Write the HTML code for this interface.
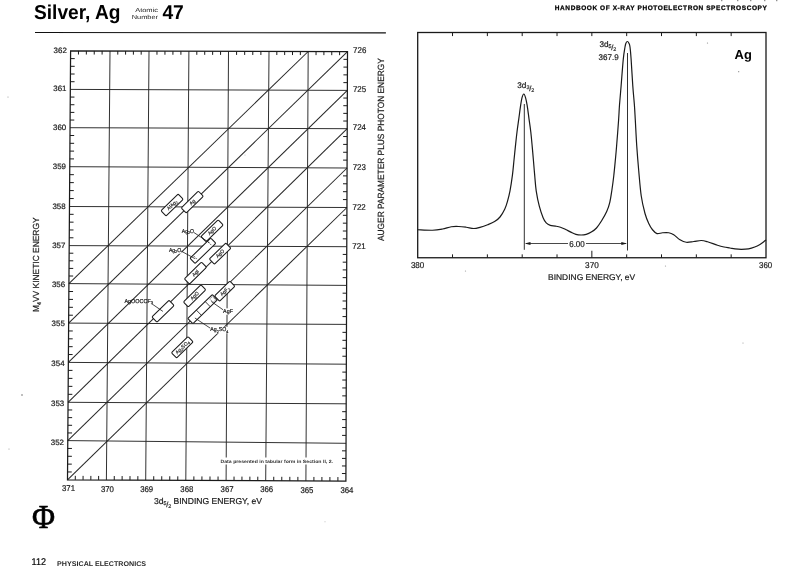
<!DOCTYPE html>
<html lang="en">
<head>
<meta charset="utf-8">
<title>Silver, Ag - Handbook of X-ray Photoelectron Spectroscopy</title>
<style>
html,body{margin:0;padding:0;background:#fff;}
body{width:800px;height:584px;overflow:hidden;font-family:"Liberation Sans",sans-serif;}
svg{display:block;}
text{white-space:pre;text-rendering:geometricPrecision;}
</style>
</head>
<body>
<svg width="800" height="584" viewBox="0 0 800 584" role="img" aria-label="Silver, Ag: chemical state plot and 3d photoelectron spectrum">
<rect width="800" height="584" fill="#fff"/>
<text x="34.00" y="18.70" font-size="20.2" font-family='"Liberation Sans", sans-serif' fill="#000" font-weight="bold" textLength="86.50" lengthAdjust="spacingAndGlyphs">Silver, Ag</text>
<text x="135.20" y="11.80" font-size="5.9" font-family='"Liberation Sans", sans-serif' fill="#1a1a1a" textLength="22.80" lengthAdjust="spacingAndGlyphs">Atomic</text>
<text x="131.80" y="18.90" font-size="5.9" font-family='"Liberation Sans", sans-serif' fill="#1a1a1a" textLength="26.20" lengthAdjust="spacingAndGlyphs">Number</text>
<text x="162.40" y="19.00" font-size="20.0" font-family='"Liberation Sans", sans-serif' fill="#000" font-weight="bold" textLength="21.40" lengthAdjust="spacingAndGlyphs">47</text>
<line x1="35.00" y1="32.45" x2="385.90" y2="32.85" stroke="#111" stroke-width="1.05" />
<text x="554.80" y="9.90" font-size="6.5" font-family='"Liberation Sans", sans-serif' fill="#000" font-weight="bold" textLength="212.00" lengthAdjust="spacing" stroke="#000" stroke-width="0.25">HANDBOOK OF X-RAY PHOTOELECTRON SPECTROSCOPY</text>
<line x1="110.00" y1="51.00" x2="106.40" y2="479.99" stroke="#262626" stroke-width="0.95" />
<line x1="149.00" y1="51.10" x2="145.70" y2="480.17" stroke="#262626" stroke-width="0.95" />
<line x1="188.90" y1="51.20" x2="185.80" y2="480.36" stroke="#262626" stroke-width="0.95" />
<line x1="228.50" y1="51.30" x2="226.10" y2="480.54" stroke="#262626" stroke-width="0.95" />
<line x1="269.00" y1="51.40" x2="265.70" y2="480.73" stroke="#262626" stroke-width="0.95" />
<line x1="308.20" y1="51.50" x2="305.90" y2="480.91" stroke="#262626" stroke-width="0.95" />
<line x1="70.32" y1="89.40" x2="347.35" y2="90.40" stroke="#262626" stroke-width="0.95" />
<line x1="70.04" y1="127.70" x2="347.21" y2="128.70" stroke="#262626" stroke-width="0.95" />
<line x1="69.75" y1="166.70" x2="347.06" y2="168.00" stroke="#262626" stroke-width="0.95" />
<line x1="69.47" y1="206.50" x2="346.92" y2="207.50" stroke="#262626" stroke-width="0.95" />
<line x1="69.19" y1="245.60" x2="346.77" y2="246.70" stroke="#262626" stroke-width="0.95" />
<line x1="68.91" y1="283.60" x2="346.63" y2="285.40" stroke="#262626" stroke-width="0.95" />
<line x1="68.63" y1="323.10" x2="346.48" y2="324.40" stroke="#262626" stroke-width="0.95" />
<line x1="68.35" y1="362.40" x2="346.34" y2="364.20" stroke="#262626" stroke-width="0.95" />
<line x1="68.06" y1="402.30" x2="346.19" y2="403.80" stroke="#262626" stroke-width="0.95" />
<line x1="67.78" y1="440.60" x2="346.05" y2="443.30" stroke="#262626" stroke-width="0.95" />
<line x1="346.92" y1="207.50" x2="67.50" y2="479.80" stroke="#262626" stroke-width="1.03" />
<line x1="347.06" y1="168.00" x2="67.78" y2="440.60" stroke="#262626" stroke-width="1.03" />
<line x1="347.21" y1="128.70" x2="68.06" y2="402.30" stroke="#262626" stroke-width="1.03" />
<line x1="347.35" y1="90.40" x2="68.35" y2="362.40" stroke="#262626" stroke-width="1.03" />
<line x1="347.50" y1="51.60" x2="68.63" y2="323.10" stroke="#262626" stroke-width="1.03" />
<line x1="308.20" y1="51.50" x2="68.91" y2="283.60" stroke="#262626" stroke-width="1.03" />
<polygon points="70.60,50.90 347.50,51.60 345.90,481.10 67.50,479.80" fill="none" stroke="#1a1a1a" stroke-width="1.25"/>
<line x1="78.48" y1="50.92" x2="78.46" y2="54.52" stroke="#1a1a1a" stroke-width="1.0" />
<line x1="75.28" y1="479.84" x2="75.30" y2="475.84" stroke="#1a1a1a" stroke-width="1.0" />
<line x1="86.36" y1="50.94" x2="86.34" y2="54.54" stroke="#1a1a1a" stroke-width="1.0" />
<line x1="83.06" y1="479.87" x2="83.08" y2="475.87" stroke="#1a1a1a" stroke-width="1.0" />
<line x1="94.24" y1="50.96" x2="94.22" y2="54.56" stroke="#1a1a1a" stroke-width="1.0" />
<line x1="90.84" y1="479.91" x2="90.86" y2="475.91" stroke="#1a1a1a" stroke-width="1.0" />
<line x1="102.12" y1="50.98" x2="102.10" y2="54.58" stroke="#1a1a1a" stroke-width="1.0" />
<line x1="98.62" y1="479.95" x2="98.64" y2="475.95" stroke="#1a1a1a" stroke-width="1.0" />
<line x1="117.80" y1="51.02" x2="117.78" y2="54.62" stroke="#1a1a1a" stroke-width="1.0" />
<line x1="114.26" y1="480.02" x2="114.28" y2="476.02" stroke="#1a1a1a" stroke-width="1.0" />
<line x1="125.60" y1="51.04" x2="125.58" y2="54.64" stroke="#1a1a1a" stroke-width="1.0" />
<line x1="122.12" y1="480.06" x2="122.14" y2="476.06" stroke="#1a1a1a" stroke-width="1.0" />
<line x1="133.40" y1="51.06" x2="133.38" y2="54.66" stroke="#1a1a1a" stroke-width="1.0" />
<line x1="129.98" y1="480.10" x2="130.00" y2="476.10" stroke="#1a1a1a" stroke-width="1.0" />
<line x1="141.20" y1="51.08" x2="141.18" y2="54.68" stroke="#1a1a1a" stroke-width="1.0" />
<line x1="137.84" y1="480.13" x2="137.86" y2="476.13" stroke="#1a1a1a" stroke-width="1.0" />
<line x1="156.98" y1="51.12" x2="156.96" y2="54.72" stroke="#1a1a1a" stroke-width="1.0" />
<line x1="153.72" y1="480.21" x2="153.74" y2="476.21" stroke="#1a1a1a" stroke-width="1.0" />
<line x1="164.96" y1="51.14" x2="164.94" y2="54.74" stroke="#1a1a1a" stroke-width="1.0" />
<line x1="161.74" y1="480.25" x2="161.76" y2="476.25" stroke="#1a1a1a" stroke-width="1.0" />
<line x1="172.94" y1="51.16" x2="172.92" y2="54.76" stroke="#1a1a1a" stroke-width="1.0" />
<line x1="169.76" y1="480.28" x2="169.78" y2="476.28" stroke="#1a1a1a" stroke-width="1.0" />
<line x1="180.92" y1="51.18" x2="180.90" y2="54.78" stroke="#1a1a1a" stroke-width="1.0" />
<line x1="177.78" y1="480.32" x2="177.80" y2="476.32" stroke="#1a1a1a" stroke-width="1.0" />
<line x1="196.82" y1="51.22" x2="196.80" y2="54.82" stroke="#1a1a1a" stroke-width="1.0" />
<line x1="193.86" y1="480.39" x2="193.88" y2="476.39" stroke="#1a1a1a" stroke-width="1.0" />
<line x1="204.74" y1="51.24" x2="204.72" y2="54.84" stroke="#1a1a1a" stroke-width="1.0" />
<line x1="201.92" y1="480.43" x2="201.94" y2="476.43" stroke="#1a1a1a" stroke-width="1.0" />
<line x1="212.66" y1="51.26" x2="212.64" y2="54.86" stroke="#1a1a1a" stroke-width="1.0" />
<line x1="209.98" y1="480.47" x2="210.00" y2="476.47" stroke="#1a1a1a" stroke-width="1.0" />
<line x1="220.58" y1="51.28" x2="220.56" y2="54.88" stroke="#1a1a1a" stroke-width="1.0" />
<line x1="218.04" y1="480.51" x2="218.06" y2="476.51" stroke="#1a1a1a" stroke-width="1.0" />
<line x1="236.60" y1="51.32" x2="236.58" y2="54.92" stroke="#1a1a1a" stroke-width="1.0" />
<line x1="234.02" y1="480.58" x2="234.04" y2="476.58" stroke="#1a1a1a" stroke-width="1.0" />
<line x1="244.70" y1="51.34" x2="244.68" y2="54.94" stroke="#1a1a1a" stroke-width="1.0" />
<line x1="241.94" y1="480.62" x2="241.96" y2="476.62" stroke="#1a1a1a" stroke-width="1.0" />
<line x1="252.80" y1="51.36" x2="252.78" y2="54.96" stroke="#1a1a1a" stroke-width="1.0" />
<line x1="249.86" y1="480.65" x2="249.88" y2="476.65" stroke="#1a1a1a" stroke-width="1.0" />
<line x1="260.90" y1="51.38" x2="260.88" y2="54.98" stroke="#1a1a1a" stroke-width="1.0" />
<line x1="257.78" y1="480.69" x2="257.80" y2="476.69" stroke="#1a1a1a" stroke-width="1.0" />
<line x1="276.84" y1="51.42" x2="276.82" y2="55.02" stroke="#1a1a1a" stroke-width="1.0" />
<line x1="273.74" y1="480.77" x2="273.76" y2="476.77" stroke="#1a1a1a" stroke-width="1.0" />
<line x1="284.68" y1="51.44" x2="284.66" y2="55.04" stroke="#1a1a1a" stroke-width="1.0" />
<line x1="281.78" y1="480.80" x2="281.80" y2="476.80" stroke="#1a1a1a" stroke-width="1.0" />
<line x1="292.52" y1="51.46" x2="292.50" y2="55.06" stroke="#1a1a1a" stroke-width="1.0" />
<line x1="289.82" y1="480.84" x2="289.84" y2="476.84" stroke="#1a1a1a" stroke-width="1.0" />
<line x1="300.36" y1="51.48" x2="300.34" y2="55.08" stroke="#1a1a1a" stroke-width="1.0" />
<line x1="297.86" y1="480.88" x2="297.88" y2="476.88" stroke="#1a1a1a" stroke-width="1.0" />
<line x1="316.06" y1="51.52" x2="316.04" y2="55.12" stroke="#1a1a1a" stroke-width="1.0" />
<line x1="313.90" y1="480.95" x2="313.92" y2="476.95" stroke="#1a1a1a" stroke-width="1.0" />
<line x1="323.92" y1="51.54" x2="323.90" y2="55.14" stroke="#1a1a1a" stroke-width="1.0" />
<line x1="321.90" y1="480.99" x2="321.92" y2="476.99" stroke="#1a1a1a" stroke-width="1.0" />
<line x1="331.78" y1="51.56" x2="331.76" y2="55.16" stroke="#1a1a1a" stroke-width="1.0" />
<line x1="329.90" y1="481.03" x2="329.92" y2="477.03" stroke="#1a1a1a" stroke-width="1.0" />
<line x1="339.64" y1="51.58" x2="339.62" y2="55.18" stroke="#1a1a1a" stroke-width="1.0" />
<line x1="337.90" y1="481.06" x2="337.92" y2="477.06" stroke="#1a1a1a" stroke-width="1.0" />
<line x1="70.54" y1="58.60" x2="74.74" y2="58.62" stroke="#1a1a1a" stroke-width="1.0" />
<line x1="347.47" y1="59.36" x2="343.47" y2="59.34" stroke="#1a1a1a" stroke-width="1.0" />
<line x1="70.49" y1="66.30" x2="74.69" y2="66.32" stroke="#1a1a1a" stroke-width="1.0" />
<line x1="347.44" y1="67.12" x2="343.44" y2="67.10" stroke="#1a1a1a" stroke-width="1.0" />
<line x1="70.43" y1="74.00" x2="74.63" y2="74.02" stroke="#1a1a1a" stroke-width="1.0" />
<line x1="347.41" y1="74.88" x2="343.41" y2="74.86" stroke="#1a1a1a" stroke-width="1.0" />
<line x1="70.37" y1="81.70" x2="74.57" y2="81.72" stroke="#1a1a1a" stroke-width="1.0" />
<line x1="347.38" y1="82.64" x2="343.38" y2="82.62" stroke="#1a1a1a" stroke-width="1.0" />
<line x1="70.26" y1="97.06" x2="74.46" y2="97.08" stroke="#1a1a1a" stroke-width="1.0" />
<line x1="347.33" y1="98.06" x2="343.33" y2="98.04" stroke="#1a1a1a" stroke-width="1.0" />
<line x1="70.21" y1="104.72" x2="74.41" y2="104.74" stroke="#1a1a1a" stroke-width="1.0" />
<line x1="347.30" y1="105.72" x2="343.30" y2="105.70" stroke="#1a1a1a" stroke-width="1.0" />
<line x1="70.15" y1="112.38" x2="74.35" y2="112.40" stroke="#1a1a1a" stroke-width="1.0" />
<line x1="347.27" y1="113.38" x2="343.27" y2="113.36" stroke="#1a1a1a" stroke-width="1.0" />
<line x1="70.09" y1="120.04" x2="74.29" y2="120.06" stroke="#1a1a1a" stroke-width="1.0" />
<line x1="347.24" y1="121.04" x2="343.24" y2="121.02" stroke="#1a1a1a" stroke-width="1.0" />
<line x1="69.98" y1="135.50" x2="74.18" y2="135.52" stroke="#1a1a1a" stroke-width="1.0" />
<line x1="347.18" y1="136.56" x2="343.18" y2="136.54" stroke="#1a1a1a" stroke-width="1.0" />
<line x1="69.92" y1="143.30" x2="74.12" y2="143.32" stroke="#1a1a1a" stroke-width="1.0" />
<line x1="347.15" y1="144.42" x2="343.15" y2="144.40" stroke="#1a1a1a" stroke-width="1.0" />
<line x1="69.87" y1="151.10" x2="74.07" y2="151.12" stroke="#1a1a1a" stroke-width="1.0" />
<line x1="347.12" y1="152.28" x2="343.12" y2="152.26" stroke="#1a1a1a" stroke-width="1.0" />
<line x1="69.81" y1="158.90" x2="74.01" y2="158.92" stroke="#1a1a1a" stroke-width="1.0" />
<line x1="347.09" y1="160.14" x2="343.09" y2="160.12" stroke="#1a1a1a" stroke-width="1.0" />
<line x1="69.70" y1="174.66" x2="73.90" y2="174.68" stroke="#1a1a1a" stroke-width="1.0" />
<line x1="347.03" y1="175.90" x2="343.03" y2="175.88" stroke="#1a1a1a" stroke-width="1.0" />
<line x1="69.64" y1="182.62" x2="73.84" y2="182.64" stroke="#1a1a1a" stroke-width="1.0" />
<line x1="347.01" y1="183.80" x2="343.01" y2="183.78" stroke="#1a1a1a" stroke-width="1.0" />
<line x1="69.59" y1="190.58" x2="73.79" y2="190.60" stroke="#1a1a1a" stroke-width="1.0" />
<line x1="346.98" y1="191.70" x2="342.98" y2="191.68" stroke="#1a1a1a" stroke-width="1.0" />
<line x1="69.53" y1="198.54" x2="73.73" y2="198.56" stroke="#1a1a1a" stroke-width="1.0" />
<line x1="346.95" y1="199.60" x2="342.95" y2="199.58" stroke="#1a1a1a" stroke-width="1.0" />
<line x1="69.42" y1="214.32" x2="73.62" y2="214.34" stroke="#1a1a1a" stroke-width="1.0" />
<line x1="346.89" y1="215.34" x2="342.89" y2="215.32" stroke="#1a1a1a" stroke-width="1.0" />
<line x1="69.36" y1="222.14" x2="73.56" y2="222.16" stroke="#1a1a1a" stroke-width="1.0" />
<line x1="346.86" y1="223.18" x2="342.86" y2="223.16" stroke="#1a1a1a" stroke-width="1.0" />
<line x1="69.30" y1="229.96" x2="73.50" y2="229.98" stroke="#1a1a1a" stroke-width="1.0" />
<line x1="346.83" y1="231.02" x2="342.83" y2="231.00" stroke="#1a1a1a" stroke-width="1.0" />
<line x1="69.25" y1="237.78" x2="73.45" y2="237.80" stroke="#1a1a1a" stroke-width="1.0" />
<line x1="346.80" y1="238.86" x2="342.80" y2="238.84" stroke="#1a1a1a" stroke-width="1.0" />
<line x1="69.13" y1="253.20" x2="73.33" y2="253.22" stroke="#1a1a1a" stroke-width="1.0" />
<line x1="346.74" y1="254.44" x2="342.74" y2="254.42" stroke="#1a1a1a" stroke-width="1.0" />
<line x1="69.08" y1="260.80" x2="73.28" y2="260.82" stroke="#1a1a1a" stroke-width="1.0" />
<line x1="346.71" y1="262.18" x2="342.71" y2="262.16" stroke="#1a1a1a" stroke-width="1.0" />
<line x1="69.02" y1="268.40" x2="73.22" y2="268.42" stroke="#1a1a1a" stroke-width="1.0" />
<line x1="346.69" y1="269.92" x2="342.69" y2="269.90" stroke="#1a1a1a" stroke-width="1.0" />
<line x1="68.97" y1="276.00" x2="73.17" y2="276.02" stroke="#1a1a1a" stroke-width="1.0" />
<line x1="346.66" y1="277.66" x2="342.66" y2="277.64" stroke="#1a1a1a" stroke-width="1.0" />
<line x1="68.85" y1="291.50" x2="73.05" y2="291.52" stroke="#1a1a1a" stroke-width="1.0" />
<line x1="346.60" y1="293.20" x2="342.60" y2="293.18" stroke="#1a1a1a" stroke-width="1.0" />
<line x1="68.80" y1="299.40" x2="73.00" y2="299.42" stroke="#1a1a1a" stroke-width="1.0" />
<line x1="346.57" y1="301.00" x2="342.57" y2="300.98" stroke="#1a1a1a" stroke-width="1.0" />
<line x1="68.74" y1="307.30" x2="72.94" y2="307.32" stroke="#1a1a1a" stroke-width="1.0" />
<line x1="346.54" y1="308.80" x2="342.54" y2="308.78" stroke="#1a1a1a" stroke-width="1.0" />
<line x1="68.68" y1="315.20" x2="72.88" y2="315.22" stroke="#1a1a1a" stroke-width="1.0" />
<line x1="346.51" y1="316.60" x2="342.51" y2="316.58" stroke="#1a1a1a" stroke-width="1.0" />
<line x1="68.57" y1="330.96" x2="72.77" y2="330.98" stroke="#1a1a1a" stroke-width="1.0" />
<line x1="346.45" y1="332.36" x2="342.45" y2="332.34" stroke="#1a1a1a" stroke-width="1.0" />
<line x1="68.51" y1="338.82" x2="72.71" y2="338.84" stroke="#1a1a1a" stroke-width="1.0" />
<line x1="346.42" y1="340.32" x2="342.42" y2="340.30" stroke="#1a1a1a" stroke-width="1.0" />
<line x1="68.46" y1="346.68" x2="72.66" y2="346.70" stroke="#1a1a1a" stroke-width="1.0" />
<line x1="346.39" y1="348.28" x2="342.39" y2="348.26" stroke="#1a1a1a" stroke-width="1.0" />
<line x1="68.40" y1="354.54" x2="72.60" y2="354.56" stroke="#1a1a1a" stroke-width="1.0" />
<line x1="346.37" y1="356.24" x2="342.37" y2="356.22" stroke="#1a1a1a" stroke-width="1.0" />
<line x1="68.29" y1="370.38" x2="72.49" y2="370.40" stroke="#1a1a1a" stroke-width="1.0" />
<line x1="346.31" y1="372.12" x2="342.31" y2="372.10" stroke="#1a1a1a" stroke-width="1.0" />
<line x1="68.23" y1="378.36" x2="72.43" y2="378.38" stroke="#1a1a1a" stroke-width="1.0" />
<line x1="346.28" y1="380.04" x2="342.28" y2="380.02" stroke="#1a1a1a" stroke-width="1.0" />
<line x1="68.18" y1="386.34" x2="72.38" y2="386.36" stroke="#1a1a1a" stroke-width="1.0" />
<line x1="346.25" y1="387.96" x2="342.25" y2="387.94" stroke="#1a1a1a" stroke-width="1.0" />
<line x1="68.12" y1="394.32" x2="72.32" y2="394.34" stroke="#1a1a1a" stroke-width="1.0" />
<line x1="346.22" y1="395.88" x2="342.22" y2="395.86" stroke="#1a1a1a" stroke-width="1.0" />
<line x1="68.01" y1="409.96" x2="72.21" y2="409.98" stroke="#1a1a1a" stroke-width="1.0" />
<line x1="346.16" y1="411.70" x2="342.16" y2="411.68" stroke="#1a1a1a" stroke-width="1.0" />
<line x1="67.95" y1="417.62" x2="72.15" y2="417.64" stroke="#1a1a1a" stroke-width="1.0" />
<line x1="346.13" y1="419.60" x2="342.13" y2="419.58" stroke="#1a1a1a" stroke-width="1.0" />
<line x1="67.89" y1="425.28" x2="72.09" y2="425.30" stroke="#1a1a1a" stroke-width="1.0" />
<line x1="346.10" y1="427.50" x2="342.10" y2="427.48" stroke="#1a1a1a" stroke-width="1.0" />
<line x1="67.84" y1="432.94" x2="72.04" y2="432.96" stroke="#1a1a1a" stroke-width="1.0" />
<line x1="346.07" y1="435.40" x2="342.07" y2="435.38" stroke="#1a1a1a" stroke-width="1.0" />
<line x1="67.73" y1="448.44" x2="71.93" y2="448.46" stroke="#1a1a1a" stroke-width="1.0" />
<line x1="346.02" y1="450.86" x2="342.02" y2="450.84" stroke="#1a1a1a" stroke-width="1.0" />
<line x1="67.67" y1="456.28" x2="71.87" y2="456.30" stroke="#1a1a1a" stroke-width="1.0" />
<line x1="345.99" y1="458.42" x2="341.99" y2="458.40" stroke="#1a1a1a" stroke-width="1.0" />
<line x1="67.61" y1="464.12" x2="71.81" y2="464.14" stroke="#1a1a1a" stroke-width="1.0" />
<line x1="345.96" y1="465.98" x2="341.96" y2="465.96" stroke="#1a1a1a" stroke-width="1.0" />
<line x1="67.56" y1="471.96" x2="71.76" y2="471.98" stroke="#1a1a1a" stroke-width="1.0" />
<line x1="345.93" y1="473.54" x2="341.93" y2="473.52" stroke="#1a1a1a" stroke-width="1.0" />
<text x="53.60" y="52.50" font-size="7.8" font-family='"Liberation Sans", sans-serif' fill="#1a1a1a" textLength="13.20" lengthAdjust="spacingAndGlyphs" stroke="#1a1a1a" stroke-width="0.2">362</text>
<text x="53.32" y="91.23" font-size="7.8" font-family='"Liberation Sans", sans-serif' fill="#1a1a1a" textLength="13.20" lengthAdjust="spacingAndGlyphs" stroke="#1a1a1a" stroke-width="0.2">361</text>
<text x="53.04" y="129.76" font-size="7.8" font-family='"Liberation Sans", sans-serif' fill="#1a1a1a" textLength="13.20" lengthAdjust="spacingAndGlyphs" stroke="#1a1a1a" stroke-width="0.2">360</text>
<text x="52.75" y="168.99" font-size="7.8" font-family='"Liberation Sans", sans-serif' fill="#1a1a1a" textLength="13.20" lengthAdjust="spacingAndGlyphs" stroke="#1a1a1a" stroke-width="0.2">359</text>
<text x="52.47" y="209.02" font-size="7.8" font-family='"Liberation Sans", sans-serif' fill="#1a1a1a" textLength="13.20" lengthAdjust="spacingAndGlyphs" stroke="#1a1a1a" stroke-width="0.2">358</text>
<text x="52.19" y="248.35" font-size="7.8" font-family='"Liberation Sans", sans-serif' fill="#1a1a1a" textLength="13.20" lengthAdjust="spacingAndGlyphs" stroke="#1a1a1a" stroke-width="0.2">357</text>
<text x="51.91" y="286.58" font-size="7.8" font-family='"Liberation Sans", sans-serif' fill="#1a1a1a" textLength="13.20" lengthAdjust="spacingAndGlyphs" stroke="#1a1a1a" stroke-width="0.2">356</text>
<text x="51.63" y="326.31" font-size="7.8" font-family='"Liberation Sans", sans-serif' fill="#1a1a1a" textLength="13.20" lengthAdjust="spacingAndGlyphs" stroke="#1a1a1a" stroke-width="0.2">355</text>
<text x="51.35" y="365.84" font-size="7.8" font-family='"Liberation Sans", sans-serif' fill="#1a1a1a" textLength="13.20" lengthAdjust="spacingAndGlyphs" stroke="#1a1a1a" stroke-width="0.2">354</text>
<text x="51.06" y="405.97" font-size="7.8" font-family='"Liberation Sans", sans-serif' fill="#1a1a1a" textLength="13.20" lengthAdjust="spacingAndGlyphs" stroke="#1a1a1a" stroke-width="0.2">353</text>
<text x="50.78" y="444.50" font-size="7.8" font-family='"Liberation Sans", sans-serif' fill="#1a1a1a" textLength="13.20" lengthAdjust="spacingAndGlyphs" stroke="#1a1a1a" stroke-width="0.2">352</text>
<text x="353.10" y="53.10" font-size="8.4" font-family='"Liberation Sans", sans-serif' fill="#1a1a1a" textLength="13.20" lengthAdjust="spacingAndGlyphs" stroke="#1a1a1a" stroke-width="0.2">726</text>
<text x="352.95" y="92.04" font-size="8.4" font-family='"Liberation Sans", sans-serif' fill="#1a1a1a" textLength="13.20" lengthAdjust="spacingAndGlyphs" stroke="#1a1a1a" stroke-width="0.2">725</text>
<text x="352.81" y="130.48" font-size="8.4" font-family='"Liberation Sans", sans-serif' fill="#1a1a1a" textLength="13.20" lengthAdjust="spacingAndGlyphs" stroke="#1a1a1a" stroke-width="0.2">724</text>
<text x="352.66" y="169.92" font-size="8.4" font-family='"Liberation Sans", sans-serif' fill="#1a1a1a" textLength="13.20" lengthAdjust="spacingAndGlyphs" stroke="#1a1a1a" stroke-width="0.2">723</text>
<text x="352.52" y="209.56" font-size="8.4" font-family='"Liberation Sans", sans-serif' fill="#1a1a1a" textLength="13.20" lengthAdjust="spacingAndGlyphs" stroke="#1a1a1a" stroke-width="0.2">722</text>
<text x="352.37" y="248.90" font-size="8.4" font-family='"Liberation Sans", sans-serif' fill="#1a1a1a" textLength="13.20" lengthAdjust="spacingAndGlyphs" stroke="#1a1a1a" stroke-width="0.2">721</text>
<text x="68.50" y="491.40" font-size="8.3" font-family='"Liberation Sans", sans-serif' fill="#1a1a1a" text-anchor="middle" textLength="13.00" lengthAdjust="spacingAndGlyphs" stroke="#1a1a1a" stroke-width="0.2">371</text>
<text x="107.40" y="491.59" font-size="8.3" font-family='"Liberation Sans", sans-serif' fill="#1a1a1a" text-anchor="middle" textLength="13.00" lengthAdjust="spacingAndGlyphs" stroke="#1a1a1a" stroke-width="0.2">370</text>
<text x="146.70" y="491.77" font-size="8.3" font-family='"Liberation Sans", sans-serif' fill="#1a1a1a" text-anchor="middle" textLength="13.00" lengthAdjust="spacingAndGlyphs" stroke="#1a1a1a" stroke-width="0.2">369</text>
<text x="186.80" y="491.96" font-size="8.3" font-family='"Liberation Sans", sans-serif' fill="#1a1a1a" text-anchor="middle" textLength="13.00" lengthAdjust="spacingAndGlyphs" stroke="#1a1a1a" stroke-width="0.2">368</text>
<text x="227.10" y="492.14" font-size="8.3" font-family='"Liberation Sans", sans-serif' fill="#1a1a1a" text-anchor="middle" textLength="13.00" lengthAdjust="spacingAndGlyphs" stroke="#1a1a1a" stroke-width="0.2">367</text>
<text x="266.70" y="492.33" font-size="8.3" font-family='"Liberation Sans", sans-serif' fill="#1a1a1a" text-anchor="middle" textLength="13.00" lengthAdjust="spacingAndGlyphs" stroke="#1a1a1a" stroke-width="0.2">366</text>
<text x="306.90" y="492.51" font-size="8.3" font-family='"Liberation Sans", sans-serif' fill="#1a1a1a" text-anchor="middle" textLength="13.00" lengthAdjust="spacingAndGlyphs" stroke="#1a1a1a" stroke-width="0.2">365</text>
<text x="346.90" y="492.70" font-size="8.3" font-family='"Liberation Sans", sans-serif' fill="#1a1a1a" text-anchor="middle" textLength="13.00" lengthAdjust="spacingAndGlyphs" stroke="#1a1a1a" stroke-width="0.2">364</text>
<text x="153.90" y="504.10" font-size="8.6" font-family='"Liberation Sans", sans-serif' fill="#1a1a1a" textLength="108.00" lengthAdjust="spacingAndGlyphs" stroke="#1a1a1a" stroke-width="0.2">3d<tspan font-size="5.4" dy="0.5">5</tspan><tspan font-size="7.6" dx="-0.2" dy="2.1">/</tspan><tspan font-size="5.4" dx="-0.2" dy="1.3">2</tspan><tspan dy="-3.9"> BINDING ENERGY, eV</tspan></text>
<text x="39.20" y="312.00" font-size="8.8" font-family='"Liberation Sans", sans-serif' fill="#1a1a1a" textLength="94.60" lengthAdjust="spacingAndGlyphs" transform="rotate(-90.00 39.20 312.00)" stroke="#1a1a1a" stroke-width="0.2">M<tspan font-size="5.6" dy="1.5">4</tspan><tspan dy="-1.5">VV KINETIC ENERGY</tspan></text>
<text x="383.70" y="241.00" font-size="9.0" font-family='"Liberation Sans", sans-serif' fill="#1a1a1a" textLength="182.80" lengthAdjust="spacingAndGlyphs" transform="rotate(-90.00 383.70 241.00)" stroke="#1a1a1a" stroke-width="0.2">AUGER PARAMETER PLUS PHOTON ENERGY</text>
<rect x="219" y="457.5" width="115" height="7" fill="#fff"/>
<text x="220.50" y="463.00" font-size="4.6" font-family='"Liberation Sans", sans-serif' fill="#333" font-weight="bold" textLength="112.50" lengthAdjust="spacingAndGlyphs">Data presented in tabular form in Section II, 2.</text>
<g transform="translate(172.10 205.00) rotate(-44.3)">
<rect x="-12.00" y="-3.65" width="24.00" height="7.30" rx="1.2" fill="#fff" stroke="#1a1a1a" stroke-width="1.05"/>
<text x="0" y="1.7" font-size="5.0" text-anchor="middle" font-family='"Liberation Sans", sans-serif' fill="#1a1a1a" stroke="#1a1a1a" stroke-width="0.15">AlAg<tspan font-size="3.6" dy="1">2</tspan></text>
</g>
<g transform="translate(192.30 202.10) rotate(-44.3)">
<rect x="-12.00" y="-3.60" width="24.00" height="7.20" rx="1.2" fill="#fff" stroke="#1a1a1a" stroke-width="1.05"/>
<text x="0" y="1.7" font-size="5.0" text-anchor="middle" font-family='"Liberation Sans", sans-serif' fill="#1a1a1a" stroke="#1a1a1a" stroke-width="0.15">Ag</text>
</g>
<g transform="translate(212.10 230.80) rotate(-44.3)">
<rect x="-12.00" y="-3.65" width="24.00" height="7.30" rx="1.2" fill="#fff" stroke="#1a1a1a" stroke-width="1.05"/>
<text x="0" y="1.7" font-size="5.0" text-anchor="middle" font-family='"Liberation Sans", sans-serif' fill="#1a1a1a" stroke="#1a1a1a" stroke-width="0.15">AgO</text>
</g>
<g transform="translate(202.90 250.80) rotate(-44.3)">
<rect x="-14.50" y="-3.65" width="29.00" height="7.30" rx="1.2" fill="#fff" stroke="#1a1a1a" stroke-width="1.05"/>
<line x1="-10.20" y1="-2.45" x2="-10.20" y2="2.45" stroke="#1a1a1a" stroke-width="0.8" stroke-dasharray="1.4 1"/>
<line x1="10.00" y1="-2.45" x2="10.00" y2="2.45" stroke="#1a1a1a" stroke-width="0.8" stroke-dasharray="1.4 1"/>
</g>
<g transform="translate(220.10 253.60) rotate(-44.3)">
<rect x="-11.50" y="-3.65" width="23.00" height="7.30" rx="1.2" fill="#fff" stroke="#1a1a1a" stroke-width="1.05"/>
<text x="0" y="1.7" font-size="5.0" text-anchor="middle" font-family='"Liberation Sans", sans-serif' fill="#1a1a1a" stroke="#1a1a1a" stroke-width="0.15">AgO</text>
</g>
<g transform="translate(195.40 273.10) rotate(-44.3)">
<rect x="-12.00" y="-3.65" width="24.00" height="7.30" rx="1.2" fill="#fff" stroke="#1a1a1a" stroke-width="1.05"/>
<text x="0" y="1.7" font-size="5.0" text-anchor="middle" font-family='"Liberation Sans", sans-serif' fill="#1a1a1a" stroke="#1a1a1a" stroke-width="0.15">AgI</text>
</g>
<g transform="translate(194.60 295.90) rotate(-44.3)">
<rect x="-12.25" y="-3.50" width="24.50" height="7.00" rx="1.2" fill="#fff" stroke="#1a1a1a" stroke-width="1.05"/>
<text x="0" y="1.7" font-size="5.0" text-anchor="middle" font-family='"Liberation Sans", sans-serif' fill="#1a1a1a" stroke="#1a1a1a" stroke-width="0.15">AgO</text>
</g>
<g transform="translate(202.60 309.20) rotate(-44.3)">
<rect x="-17.10" y="-3.65" width="34.20" height="7.30" rx="0.8" fill="#fff" stroke="#1a1a1a" stroke-width="1.05"/>
<line x1="-5.10" y1="-3.65" x2="-5.10" y2="3.65" stroke="#1a1a1a" stroke-width="0.8"/>
<line x1="7.20" y1="-3.65" x2="7.20" y2="3.65" stroke="#1a1a1a" stroke-width="0.8"/>
<rect x="12.30" y="-2.35" width="3.6" height="4.70" fill="none" stroke="#1a1a1a" stroke-width="0.6" stroke-dasharray="1.2 0.8"/>
</g>
<g transform="translate(224.70 291.20) rotate(-44.3)">
<rect x="-10.70" y="-3.65" width="21.40" height="7.30" rx="1.2" fill="#fff" stroke="#1a1a1a" stroke-width="1.05"/>
<text x="0" y="1.7" font-size="5.0" text-anchor="middle" font-family='"Liberation Sans", sans-serif' fill="#1a1a1a" stroke="#1a1a1a" stroke-width="0.15">AgF<tspan font-size="3.6" dy="1">2</tspan></text>
</g>
<g transform="translate(163.00 311.20) rotate(-44.3)">
<rect x="-12.00" y="-3.65" width="24.00" height="7.30" rx="1.2" fill="#fff" stroke="#1a1a1a" stroke-width="1.05"/>
</g>
<g transform="translate(182.30 347.30) rotate(-44.3)">
<rect x="-11.60" y="-3.75" width="23.20" height="7.50" rx="1.2" fill="#fff" stroke="#1a1a1a" stroke-width="1.05"/>
<text x="0" y="1.7" font-size="5.0" text-anchor="middle" font-family='"Liberation Sans", sans-serif' fill="#1a1a1a" stroke="#1a1a1a" stroke-width="0.15">Ag<tspan font-size="3.6" dy="1">2</tspan><tspan dy="-1">SO</tspan><tspan font-size="3.6" dy="1">4</tspan></text>
</g>
<text x="181.80" y="232.60" font-size="5.6" font-family='"Liberation Sans", sans-serif' fill="#1a1a1a" textLength="12.20" lengthAdjust="spacingAndGlyphs" stroke="#1a1a1a" stroke-width="0.2">Ag<tspan font-size="4" dy="1.2">2</tspan><tspan dy="-1.2">O</tspan></text>
<line x1="193.90" y1="232.50" x2="209.30" y2="242.70" stroke="#1a1a1a" stroke-width="0.8" />
<rect x="168.40" y="247.22" width="13.20" height="6.44" fill="#fff"/>
<text x="168.90" y="251.70" font-size="5.6" font-family='"Liberation Sans", sans-serif' fill="#1a1a1a" textLength="12.20" lengthAdjust="spacingAndGlyphs" stroke="#1a1a1a" stroke-width="0.2">Ag<tspan font-size="4" dy="1.2">2</tspan><tspan dy="-1.2">O</tspan></text>
<line x1="181.00" y1="251.00" x2="194.90" y2="258.60" stroke="#1a1a1a" stroke-width="0.8" />
<text x="124.40" y="303.20" font-size="5.6" font-family='"Liberation Sans", sans-serif' fill="#1a1a1a" textLength="28.50" lengthAdjust="spacingAndGlyphs" stroke="#1a1a1a" stroke-width="0.2">AgOOCCF<tspan font-size="4" dy="1.2">3</tspan></text>
<line x1="152.10" y1="304.00" x2="162.90" y2="311.40" stroke="#1a1a1a" stroke-width="0.8" />
<rect x="222.60" y="308.32" width="10.80" height="6.44" fill="#fff"/>
<text x="223.10" y="312.80" font-size="5.6" font-family='"Liberation Sans", sans-serif' fill="#1a1a1a" textLength="9.80" lengthAdjust="spacingAndGlyphs" stroke="#1a1a1a" stroke-width="0.2">AgF</text>
<line x1="211.30" y1="301.50" x2="223.10" y2="309.80" stroke="#1a1a1a" stroke-width="0.8" />
<rect x="209.80" y="326.82" width="19.00" height="6.44" fill="#fff"/>
<text x="210.30" y="331.30" font-size="5.6" font-family='"Liberation Sans", sans-serif' fill="#1a1a1a" textLength="18.00" lengthAdjust="spacingAndGlyphs" stroke="#1a1a1a" stroke-width="0.2">Ag<tspan font-size="4" dy="1.2">2</tspan><tspan dy="-1.2">SO</tspan><tspan font-size="4" dy="1.2">4</tspan></text>
<line x1="194.90" y1="318.00" x2="210.30" y2="328.20" stroke="#1a1a1a" stroke-width="0.8" />
<text x="31.90" y="527.70" font-size="33.6" font-family='"Liberation Serif", serif' fill="#000" textLength="23.00" lengthAdjust="spacingAndGlyphs" stroke="#000" stroke-width="0.7" stroke-linejoin="round">Φ</text>
<text x="31.60" y="565.00" font-size="9.8" font-family='"Liberation Sans", sans-serif' fill="#000" textLength="14.40" lengthAdjust="spacingAndGlyphs" stroke="#000" stroke-width="0.2">112</text>
<text x="57.10" y="565.50" font-size="6.8" font-family='"Liberation Sans", sans-serif' fill="#2a2a2a" font-weight="bold" textLength="89.00" lengthAdjust="spacingAndGlyphs">PHYSICAL ELECTRONICS</text>
<rect x="417.7" y="32.5" width="348.30" height="225.25" fill="none" stroke="#1a1a1a" stroke-width="1.3"/>
<line x1="452.53" y1="32.50" x2="452.53" y2="36.10" stroke="#1a1a1a" stroke-width="1.0" />
<line x1="452.53" y1="257.75" x2="452.53" y2="254.35" stroke="#1a1a1a" stroke-width="1.0" />
<line x1="487.36" y1="32.50" x2="487.36" y2="36.10" stroke="#1a1a1a" stroke-width="1.0" />
<line x1="487.36" y1="257.75" x2="487.36" y2="254.35" stroke="#1a1a1a" stroke-width="1.0" />
<line x1="522.19" y1="32.50" x2="522.19" y2="36.10" stroke="#1a1a1a" stroke-width="1.0" />
<line x1="522.19" y1="257.75" x2="522.19" y2="254.35" stroke="#1a1a1a" stroke-width="1.0" />
<line x1="557.02" y1="32.50" x2="557.02" y2="36.10" stroke="#1a1a1a" stroke-width="1.0" />
<line x1="557.02" y1="257.75" x2="557.02" y2="254.35" stroke="#1a1a1a" stroke-width="1.0" />
<line x1="591.85" y1="32.50" x2="591.85" y2="36.10" stroke="#1a1a1a" stroke-width="1.0" />
<line x1="591.85" y1="257.75" x2="591.85" y2="250.75" stroke="#1a1a1a" stroke-width="1.0" />
<line x1="626.68" y1="32.50" x2="626.68" y2="36.10" stroke="#1a1a1a" stroke-width="1.0" />
<line x1="626.68" y1="257.75" x2="626.68" y2="254.35" stroke="#1a1a1a" stroke-width="1.0" />
<line x1="661.51" y1="32.50" x2="661.51" y2="36.10" stroke="#1a1a1a" stroke-width="1.0" />
<line x1="661.51" y1="257.75" x2="661.51" y2="254.35" stroke="#1a1a1a" stroke-width="1.0" />
<line x1="696.34" y1="32.50" x2="696.34" y2="36.10" stroke="#1a1a1a" stroke-width="1.0" />
<line x1="696.34" y1="257.75" x2="696.34" y2="254.35" stroke="#1a1a1a" stroke-width="1.0" />
<line x1="731.17" y1="32.50" x2="731.17" y2="36.10" stroke="#1a1a1a" stroke-width="1.0" />
<line x1="731.17" y1="257.75" x2="731.17" y2="254.35" stroke="#1a1a1a" stroke-width="1.0" />
<text x="410.90" y="268.40" font-size="8.4" font-family='"Liberation Sans", sans-serif' fill="#1a1a1a" textLength="13.40" lengthAdjust="spacingAndGlyphs" stroke="#1a1a1a" stroke-width="0.2">380</text>
<text x="585.10" y="268.40" font-size="8.4" font-family='"Liberation Sans", sans-serif' fill="#1a1a1a" textLength="13.70" lengthAdjust="spacingAndGlyphs" stroke="#1a1a1a" stroke-width="0.2">370</text>
<text x="759.00" y="268.40" font-size="8.4" font-family='"Liberation Sans", sans-serif' fill="#1a1a1a" textLength="13.20" lengthAdjust="spacingAndGlyphs" stroke="#1a1a1a" stroke-width="0.2">360</text>
<text x="548.00" y="279.70" font-size="8.4" font-family='"Liberation Sans", sans-serif' fill="#1a1a1a" textLength="87.20" lengthAdjust="spacingAndGlyphs" stroke="#1a1a1a" stroke-width="0.2">BINDING ENERGY, eV</text>
<text x="734.60" y="59.30" font-size="13" font-family='"Liberation Sans", sans-serif' fill="#000" font-weight="bold" textLength="17.20" lengthAdjust="spacingAndGlyphs">Ag</text>
<path d="M417.70,229.75 C420.17,229.83 428.37,230.38 432.50,230.25 C436.63,230.12 439.38,229.58 442.50,229.00 C445.62,228.42 448.54,227.17 451.25,226.75 C453.96,226.33 456.25,226.42 458.75,226.50 C461.25,226.58 463.75,226.92 466.25,227.25 C468.75,227.58 471.46,228.49 473.75,228.50 C476.04,228.51 477.68,227.93 480.00,227.30 C482.32,226.67 485.27,225.65 487.70,224.70 C490.13,223.75 492.55,222.88 494.60,221.60 C496.65,220.32 498.32,219.05 500.00,217.00 C501.68,214.95 503.47,211.87 504.70,209.30 C505.93,206.73 506.52,204.68 507.40,201.60 C508.28,198.52 509.17,195.17 510.00,190.80 C510.83,186.43 511.73,180.53 512.40,175.40 C513.07,170.27 513.50,164.83 514.00,160.00 C514.50,155.17 514.90,151.07 515.40,146.40 C515.90,141.73 516.43,136.60 517.00,132.00 C517.57,127.40 518.20,123.20 518.80,118.80 C519.40,114.40 520.05,109.17 520.60,105.60 C521.15,102.03 521.57,99.33 522.10,97.40 C522.63,95.47 523.22,93.93 523.80,94.00 C524.38,94.07 525.03,95.87 525.60,97.80 C526.17,99.73 526.63,102.10 527.20,105.60 C527.77,109.10 528.40,114.40 529.00,118.80 C529.60,123.20 530.27,127.40 530.80,132.00 C531.33,136.60 531.77,141.73 532.20,146.40 C532.63,151.07 532.98,155.17 533.40,160.00 C533.82,164.83 534.23,170.27 534.70,175.40 C535.17,180.53 535.43,185.67 536.20,190.80 C536.97,195.93 538.15,201.72 539.30,206.20 C540.45,210.68 541.95,214.92 543.10,217.70 C544.25,220.48 545.00,221.62 546.20,222.90 C547.40,224.18 548.77,224.87 550.30,225.40 C551.83,225.93 553.70,225.80 555.40,226.10 C557.10,226.40 558.78,226.63 560.50,227.20 C562.22,227.77 563.98,228.68 565.70,229.50 C567.42,230.32 569.10,231.28 570.80,232.10 C572.50,232.92 574.18,233.92 575.90,234.40 C577.62,234.88 579.38,235.00 581.10,235.00 C582.82,235.00 584.50,234.88 586.20,234.40 C587.90,233.92 589.58,233.17 591.30,232.10 C593.02,231.03 594.78,229.88 596.50,228.00 C598.22,226.12 599.90,223.53 601.60,220.80 C603.30,218.07 605.33,214.68 606.70,211.60 C608.07,208.52 608.93,205.90 609.80,202.30 C610.67,198.70 611.24,194.38 611.90,190.00 C612.56,185.62 613.15,181.25 613.75,176.00 C614.35,170.75 615.02,163.50 615.50,158.50 C615.98,153.50 616.08,152.42 616.60,146.00 C617.12,139.58 618.12,126.83 618.60,120.00 C619.08,113.17 619.08,110.67 619.50,105.00 C619.92,99.33 620.47,93.67 621.10,86.00 C621.73,78.33 622.65,65.50 623.30,59.00 C623.95,52.50 624.57,49.63 625.00,47.00 C625.43,44.37 625.50,44.12 625.90,43.20 C626.30,42.28 626.90,41.50 627.40,41.50 C627.90,41.50 628.47,42.28 628.90,43.20 C629.33,44.12 629.63,44.37 630.00,47.00 C630.37,49.63 630.63,52.50 631.10,59.00 C631.57,65.50 632.25,78.33 632.80,86.00 C633.35,93.67 633.98,99.33 634.40,105.00 C634.82,110.67 634.91,113.17 635.30,120.00 C635.69,126.83 636.17,137.50 636.75,146.00 C637.33,154.50 638.00,162.67 638.75,171.00 C639.50,179.33 640.21,188.92 641.25,196.00 C642.29,203.08 643.75,208.92 645.00,213.50 C646.25,218.08 647.50,220.79 648.75,223.50 C650.00,226.21 651.12,228.07 652.50,229.75 C653.88,231.43 655.33,233.10 657.00,233.60 C658.67,234.10 660.54,232.89 662.50,232.75 C664.46,232.61 666.88,232.42 668.75,232.75 C670.62,233.08 671.88,233.58 673.75,234.75 C675.62,235.92 677.92,238.50 680.00,239.75 C682.08,241.00 683.96,241.96 686.25,242.25 C688.54,242.54 691.25,241.79 693.75,241.50 C696.25,241.21 698.96,240.46 701.25,240.50 C703.54,240.54 704.79,240.96 707.50,241.75 C710.21,242.54 714.75,244.38 717.50,245.25 C720.25,246.12 721.92,246.54 724.00,247.00 C726.08,247.46 728.17,247.68 730.00,248.00 C731.83,248.32 733.08,248.68 735.00,248.90 C736.92,249.12 739.25,249.32 741.50,249.30 C743.75,249.28 746.29,249.18 748.50,248.80 C750.71,248.42 752.83,247.73 754.75,247.00 C756.67,246.27 758.50,245.28 760.00,244.40 C761.50,243.53 762.75,242.50 763.75,241.75 C764.75,241.00 765.62,240.21 766.00,239.90" fill="none" stroke="#1a1a1a" stroke-width="1.2" stroke-linejoin="round"/>
<line x1="524.30" y1="104.00" x2="524.30" y2="249.80" stroke="#1a1a1a" stroke-width="0.9" />
<line x1="627.50" y1="53.00" x2="627.50" y2="250.50" stroke="#1a1a1a" stroke-width="0.9" />
<line x1="526.00" y1="243.50" x2="568.00" y2="243.50" stroke="#1a1a1a" stroke-width="0.8" />
<line x1="586.00" y1="243.50" x2="626.00" y2="243.50" stroke="#1a1a1a" stroke-width="0.8" />
<polygon points="524.8,243.5 530.5,241.9 530.5,245.1" fill="#1a1a1a"/>
<polygon points="627.0,243.5 621.3,241.9 621.3,245.1" fill="#1a1a1a"/>
<text x="569.20" y="246.50" font-size="8.6" font-family='"Liberation Sans", sans-serif' fill="#1a1a1a" textLength="15.60" lengthAdjust="spacingAndGlyphs" stroke="#1a1a1a" stroke-width="0.2">6.00</text>
<text x="517.30" y="88.30" font-size="8.2" font-family='"Liberation Sans", sans-serif' fill="#1a1a1a" stroke="#1a1a1a" stroke-width="0.2">3d<tspan font-size="5.4" dy="0.5">3</tspan><tspan font-size="7.6" dx="-0.2" dy="2.1">/</tspan><tspan font-size="5.4" dx="-0.2" dy="1.3">2</tspan></text>
<text x="599.40" y="47.00" font-size="8.2" font-family='"Liberation Sans", sans-serif' fill="#1a1a1a" stroke="#1a1a1a" stroke-width="0.2">3d<tspan font-size="5.4" dy="0.5">5</tspan><tspan font-size="7.6" dx="-0.2" dy="2.1">/</tspan><tspan font-size="5.4" dx="-0.2" dy="1.3">2</tspan></text>
<text x="598.60" y="60.10" font-size="8.2" font-family='"Liberation Sans", sans-serif' fill="#1a1a1a" textLength="20.10" lengthAdjust="spacingAndGlyphs" stroke="#1a1a1a" stroke-width="0.2">367.9</text>
<circle cx="8" cy="97" r="0.6" fill="#333" opacity="0.5"/>
<circle cx="22" cy="395" r="0.8" fill="#333" opacity="0.7"/>
<circle cx="9" cy="449" r="0.6" fill="#333" opacity="0.5"/>
<circle cx="743" cy="343" r="0.6" fill="#333" opacity="0.5"/>
<circle cx="707.5" cy="43" r="0.6" fill="#333" opacity="0.6"/>
<circle cx="738.7" cy="71.7" r="0.6" fill="#333" opacity="0.6"/>
<circle cx="465.5" cy="271" r="0.6" fill="#333" opacity="0.5"/>
<circle cx="665.5" cy="266" r="0.6" fill="#333" opacity="0.5"/>
<circle cx="325" cy="521.7" r="0.5" fill="#333" opacity="0.4"/>
<circle cx="245" cy="155" r="0.5" fill="#333" opacity="0.4"/>
<rect x="721" y="0" width="1.4" height="1.2" fill="#444" opacity="0.6"/>
<rect x="737" y="0" width="1.4" height="1.2" fill="#444" opacity="0.6"/>
<rect x="750" y="0" width="1.4" height="1.2" fill="#444" opacity="0.6"/>
<rect x="764" y="0" width="1.4" height="1.2" fill="#444" opacity="0.6"/>
<rect x="776" y="0" width="1.4" height="1.2" fill="#444" opacity="0.6"/>
</svg>
</body>
</html>
